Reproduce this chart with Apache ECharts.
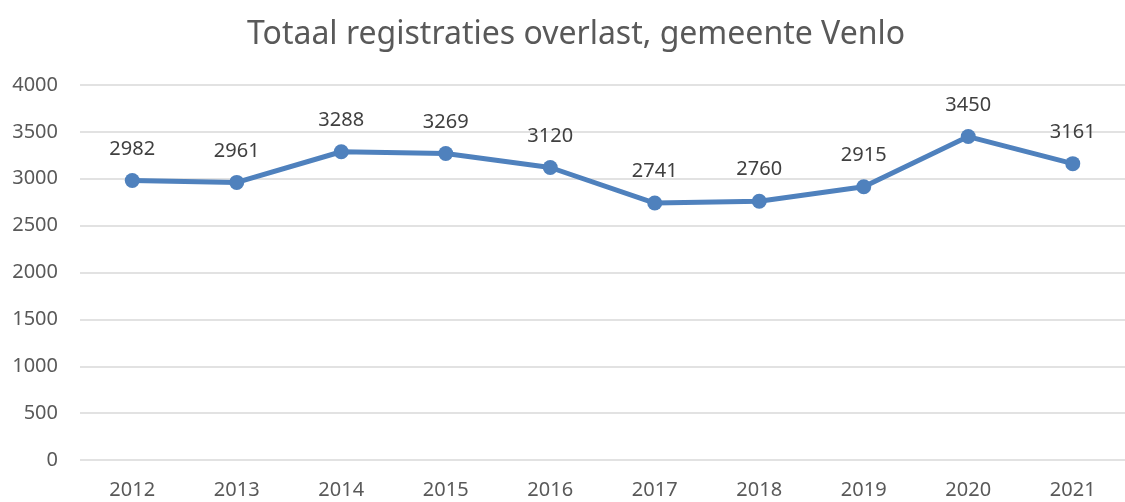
<!DOCTYPE html>
<html lang="nl">
<head>
    <meta charset="UTF-8">
    <title>Totaal registraties overlast</title>
    <style>
        html, body { margin: 0; padding: 0; background: #fff; }
        #main { width: 1125px; height: 502px; }
    </style>
    <script src="https://cdn.jsdelivr.net/npm/echarts@6/dist/echarts.min.js"></script>
</head>
<body>
<div id="main"></div>
<script>
// data
var jaren = ['2012', '2013', '2014', '2015', '2016', '2017', '2018', '2019', '2020', '2021'];
var registraties = [2982, 2961, 3288, 3269, 3120, 2741, 2760, 2915, 3450, 3161];

var chart = echarts.init(document.getElementById('main'));
var font = 'Noto Sans';

var option = {
    backgroundColor: '#fff',
    title: {
        text: 'Totaal registraties overlast, gemeente Venlo',
        left: 247,
        top: 19,
        padding: 0,
        textStyle: { fontFamily: font, fontSize: 32, fontWeight: 'normal', color: '#595959' }
    },
    grid: { left: 80, right: -15, top: 85, bottom: 42 },
    xAxis: {
        type: 'category',
        data: jaren,
        boundaryGap: true,
        axisLine: { show: false },
        axisTick: { show: false },
        axisLabel: { margin: 20, fontFamily: font, fontSize: 20, color: '#595959' }
    },
    yAxis: {
        type: 'value',
        min: 0,
        max: 4000,
        interval: 500,
        axisLine: { show: false },
        axisTick: { show: false },
        axisLabel: {
            margin: 22, fontFamily: font, fontSize: 20, color: '#595959',
            formatter: function (v) { return String(v); }
        },
        splitLine: { lineStyle: { color: '#d9d9d9', width: 1.5 } }
    },
    series: [{
        type: 'line',
        data: registraties,
        symbol: 'circle',
        symbolSize: 15,
        lineStyle: { color: '#4f81bd', width: 5 },
        itemStyle: { color: '#4f81bd' },
        label: {
            show: true,
            position: 'top',
            distance: 14,
            fontFamily: font,
            fontSize: 20,
            color: '#404040'
        },
        animation: false
    }]
};

chart.setOption(option);
</script>
</body>
</html>
